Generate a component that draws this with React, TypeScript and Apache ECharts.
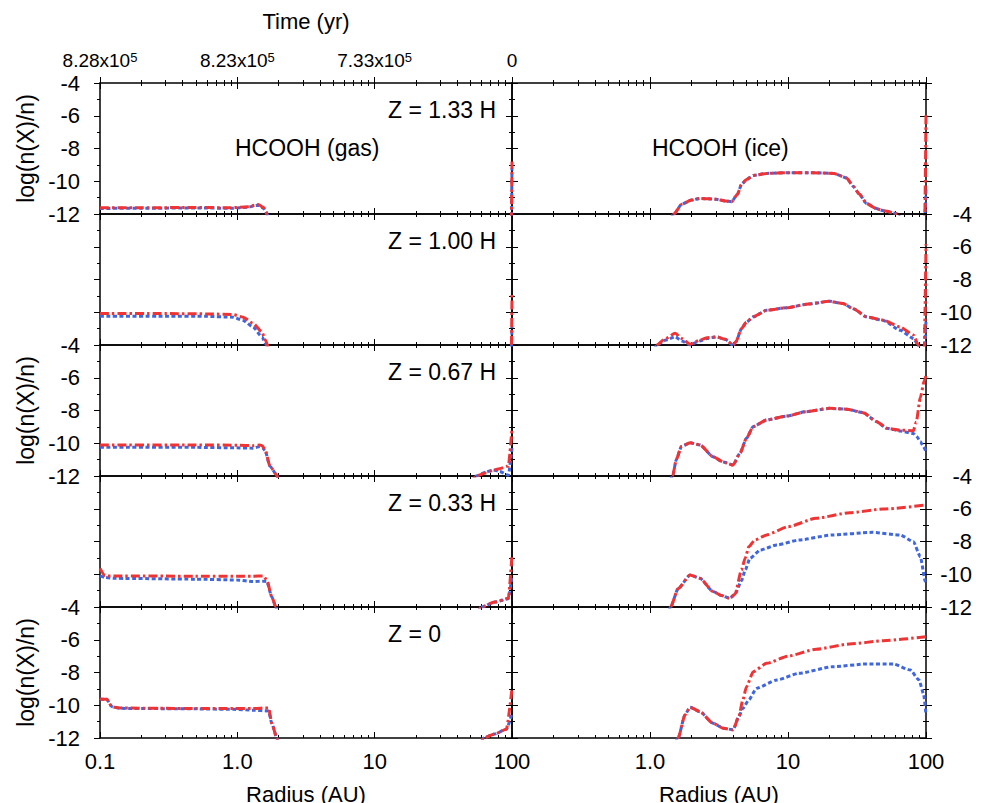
import React, { useEffect, useRef } from 'react';
import * as echarts from 'echarts';

// ---------- tick / label data ----------
const xMajorRadius = [0.1, 1, 10, 100];
const xTickLabels = ['0.1', '1.0', '10', '100'];
const timeTickLabels = ['8.28x10^5', '8.23x10^5', '7.33x10^5', '0'];
const heightLabels = ['Z = 1.33 H', 'Z = 1.00 H', 'Z = 0.67 H', 'Z = 0.33 H', 'Z = 0'];
const speciesLabels = ['HCOOH (gas)', 'HCOOH (ice)'];

// ---------- Z = 1.33 H ----------
const gas133R = [0.1, 0.2, 0.5, 0.9, 1.2, 1.42, 1.55, 1.66, 1.75, 97, 99, 100];
const gas133Red = [-11.62, -11.62, -11.6, -11.62, -11.55, -11.42, -11.6, -12.0, -13, -13, -12.2, -8.8];
const gas133Blue = [-11.66, -11.65, -11.63, -11.65, -11.58, -11.46, -11.65, -12.05, -13, -13, -12.2, -9.2];
const ice133R = [1.3, 1.49, 1.7, 2.0, 2.3, 3.0, 3.5, 3.9, 4.3, 4.6, 5.0, 5.6, 7.0, 10, 15, 21.5, 26.6, 29.6, 33, 37, 43, 49, 62, 70, 95, 98, 100];
const ice133Red = [-13, -12, -11.4, -11.15, -11.05, -11.1, -11.2, -11.25, -10.8, -10.2, -9.9, -9.65, -9.52, -9.48, -9.48, -9.52, -9.8, -10.3, -10.8, -11.35, -11.65, -11.8, -11.97, -13, -13, -12.2, -5.8];
const ice133Blue = [-13, -12, -11.4, -11.15, -11.05, -11.1, -11.2, -11.25, -10.8, -10.2, -9.9, -9.65, -9.52, -9.48, -9.48, -9.52, -9.8, -10.3, -10.8, -11.35, -11.65, -11.8, -11.97, -13, -13, -12.2, -10.5];

// ---------- Z = 1.00 H ----------
const gas100R = [0.1, 0.3, 0.6, 0.93, 1.1, 1.3, 1.51, 1.6, 1.66, 1.75, 97, 99, 100];
const gas100Red = [-10.08, -10.08, -10.1, -10.14, -10.3, -10.67, -11.2, -11.7, -12, -13, -13, -12.2, -8.85];
const gas100Blue = [-10.24, -10.24, -10.25, -10.3, -10.5, -10.9, -11.5, -11.9, -12.1, -13, -13, -12.2, -10.9];
const ice100R = [1.0, 1.12, 1.3, 1.52, 1.7, 1.95, 2.3, 2.6, 3.04, 3.5, 4.0, 4.2, 4.6, 5.0, 5.6, 7.0, 9.8, 14, 20, 25, 30, 37, 49, 65, 81, 88, 92, 97, 100];
const ice100Red = [-13, -12, -11.6, -11.29, -11.6, -11.95, -11.7, -11.55, -11.5, -11.65, -12.0, -11.8, -11.0, -10.6, -10.28, -9.88, -9.72, -9.5, -9.33, -9.47, -9.8, -10.28, -10.48, -10.9, -11.39, -12, -13, -12.5, -5.84];
const ice100Blue = [-13, -12, -11.7, -11.5, -11.75, -12.0, -11.75, -11.6, -11.5, -11.65, -12.0, -11.8, -11.0, -10.6, -10.28, -9.88, -9.72, -9.5, -9.33, -9.47, -9.8, -10.28, -10.5, -11.1, -11.6, -12, -13, -12.5, -10.5];

// ---------- Z = 0.67 H ----------
const gas067R = [0.1, 0.5, 1.0, 1.3, 1.46, 1.52, 1.59, 1.73, 1.94, 2.05, 45, 55, 65, 73, 81, 94, 100];
const gas067Red = [-10.1, -10.1, -10.12, -10.15, -10.1, -10.15, -10.4, -11.4, -11.95, -13, -13, -12, -11.8, -11.65, -11.55, -11.39, -9.1];
const gas067Blue = [-10.25, -10.25, -10.28, -10.3, -10.2, -10.25, -10.45, -11.4, -11.95, -13, -13, -12, -11.75, -11.63, -11.72, -11.95, -10.3];
const ice067RedR = [1.3, 1.46, 1.55, 1.69, 1.95, 2.3, 2.86, 3.4, 4.0, 4.49, 5.0, 5.6, 7.0, 9.8, 13.5, 20, 26.6, 35, 44, 52, 65, 81, 85, 91, 97, 100];
const ice067Red = [-13, -12, -11.0, -10.2, -9.97, -10.1, -10.82, -11.15, -11.33, -10.6, -9.7, -8.98, -8.58, -8.34, -8.07, -7.87, -7.92, -8.13, -8.68, -9.09, -9.2, -9.23, -8.7, -7.2, -6.2, -5.85];
const ice067BlueR = [1.3, 1.46, 1.55, 1.69, 1.95, 2.3, 2.86, 3.4, 4.0, 4.49, 5.0, 5.6, 7.0, 9.8, 13.5, 20, 26.6, 35, 44, 52, 65, 81, 86, 91, 95, 100];
const ice067Blue = [-13, -12, -11.0, -10.2, -9.97, -10.1, -10.82, -11.15, -11.33, -10.6, -9.7, -8.98, -8.58, -8.34, -8.07, -7.87, -7.92, -8.13, -8.68, -9.09, -9.25, -9.4, -9.6, -9.9, -10.15, -10.5];

// ---------- Z = 0.33 H ----------
const gas033R = [0.1, 0.109, 0.13, 0.5, 1.0, 1.3, 1.54, 1.64, 1.78, 1.91, 2.0, 50, 60, 75, 94, 100];
const gas033Red = [-9.64, -10.1, -10.1, -10.12, -10.12, -10.12, -10.1, -10.35, -11.37, -12, -13, -13, -12, -11.7, -11.47, -8.82];
const gas033Blue = [-10.1, -10.2, -10.25, -10.3, -10.35, -10.45, -10.42, -10.45, -11.37, -12, -13, -13, -12, -11.7, -11.5, -10.1];
const ice033RedR = [1.3, 1.41, 1.6, 1.95, 2.3, 2.86, 3.3, 3.79, 4.14, 4.6, 4.9, 5.2, 5.75, 7.0, 10, 16, 28, 49, 100];
const ice033Red = [-13, -12, -10.87, -10.05, -10.25, -11.05, -11.3, -11.47, -11.2, -9.74, -9.0, -8.32, -7.91, -7.6, -7.1, -6.58, -6.24, -6.02, -5.77];
const ice033BlueR = [1.3, 1.41, 1.6, 1.95, 2.3, 2.86, 3.3, 3.79, 4.14, 4.6, 4.9, 5.3, 6.3, 8.3, 12, 21, 41, 65, 81, 91, 99, 100];
const ice033Blue = [-13, -12, -10.87, -10.05, -10.25, -11.05, -11.3, -11.47, -11.2, -10.4, -9.74, -9.03, -8.52, -8.21, -7.91, -7.6, -7.44, -7.6, -8.01, -8.93, -10.45, -10.6];

// ---------- Z = 0 ----------
const gas000R = [0.1, 0.103, 0.112, 0.122, 0.14, 0.5, 0.93, 1.3, 1.69, 1.78, 1.94, 2.05, 55, 62, 75, 91, 100];
const gas000Red = [-9.6, -9.64, -9.64, -10.09, -10.17, -10.2, -10.2, -10.2, -10.16, -11.1, -12, -13, -13, -12, -11.75, -11.47, -8.97];
const gas000Blue = [-9.6, -9.64, -9.64, -10.09, -10.19, -10.22, -10.25, -10.3, -10.35, -11.1, -12, -13, -13, -12, -11.75, -11.47, -10.5];
const ice000RedR = [1.4, 1.6, 1.79, 1.95, 2.3, 2.86, 3.4, 4.0, 4.4, 4.7, 5.0, 5.6, 7.0, 10, 16, 28, 49, 100];
const ice000Red = [-13, -12, -10.6, -10.12, -10.39, -11.1, -11.4, -11.5, -10.7, -9.7, -8.87, -7.95, -7.44, -7.0, -6.58, -6.26, -6.06, -5.81];
const ice000BlueR = [1.4, 1.6, 1.79, 1.95, 2.3, 2.86, 3.4, 4.0, 4.4, 4.7, 5.2, 5.9, 8.3, 12, 21, 37, 58, 77, 89, 96, 100];
const ice000Blue = [-13, -12, -10.6, -10.12, -10.39, -11.1, -11.4, -11.5, -10.7, -10.2, -9.68, -8.97, -8.46, -8.05, -7.65, -7.48, -7.48, -7.85, -8.46, -9.3, -10.6];

type Panel = { blueR: number[]; blue: number[]; redR: number[]; red: number[] };
const panels: Panel[][] = [
  [
    { blueR: gas133R, blue: gas133Blue, redR: gas133R, red: gas133Red },
    { blueR: ice133R, blue: ice133Blue, redR: ice133R, red: ice133Red },
  ],
  [
    { blueR: gas100R, blue: gas100Blue, redR: gas100R, red: gas100Red },
    { blueR: ice100R, blue: ice100Blue, redR: ice100R, red: ice100Red },
  ],
  [
    { blueR: gas067R, blue: gas067Blue, redR: gas067R, red: gas067Red },
    { blueR: ice067BlueR, blue: ice067Blue, redR: ice067RedR, red: ice067Red },
  ],
  [
    { blueR: gas033R, blue: gas033Blue, redR: gas033R, red: gas033Red },
    { blueR: ice033BlueR, blue: ice033Blue, redR: ice033RedR, red: ice033Red },
  ],
  [
    { blueR: gas000R, blue: gas000Blue, redR: gas000R, red: gas000Red },
    { blueR: ice000BlueR, blue: ice000Blue, redR: ice000RedR, red: ice000Red },
  ],
];

const FONT = "'Liberation Sans', Arial, Helvetica, sans-serif";
const RED = '#ee3434';
const BLUE = '#3f66e0';

function buildOption() {
  const majorLog = xMajorRadius.map((r) => Math.log10(r));
  const minorLog: number[] = [];
  for (let d = -1; d <= 1; d++) for (let k = 2; k <= 9; k++) minorLog.push(d + Math.log10(k));
  const labelFor = (v: number) => {
    const i = majorLog.findIndex((m) => Math.abs(m - v) < 1e-6);
    return i >= 0 ? xTickLabels[i] : '';
  };
  const timeFor = (v: number) => {
    const i = majorLog.findIndex((m) => Math.abs(m - v) < 1e-6);
    if (i < 0) return '';
    const parts = timeTickLabels[i].split('^');
    return parts.length > 1 ? `{a|${parts[0]}}{b|${parts[1]}}` : `{a|${parts[0]}}`;
  };

  const grids: any[] = [];
  const xAxes: any[] = [];
  const yAxes: any[] = [];
  const series: any[] = [];
  const graphics: any[] = [];
  const black = { color: '#000', width: 1.5 };
  const tickLine = { color: '#000', width: 1 };
  const top0 = 83;
  const rowH = 131;

  for (let row = 0; row < 5; row++) {
    for (let col = 0; col < 2; col++) {
      const g = grids.length;
      grids.push({
        left: col === 0 ? 100 : 512,
        width: col === 0 ? 412 : 414,
        top: top0 + row * rowH,
        height: rowH,
        outerBoundsMode: 'none',
        containLabel: false,
      });
      const baseX = {
        gridIndex: g,
        type: 'value',
        min: -1,
        max: 2,
        splitLine: { show: false },
        minorSplitLine: { show: false },
      };
      const mainX = xAxes.length;
      xAxes.push({
        ...baseX,
        position: 'bottom',
        axisLine: { show: true, onZero: false, lineStyle: black },
        axisTick: { show: true, inside: true, length: 6, customValues: majorLog, lineStyle: tickLine },
        axisLabel: {
          show: row === 4,
          customValues: col === 0 ? majorLog : majorLog.slice(1),
          formatter: labelFor,
          margin: 12,
          color: '#000',
          fontSize: 22,
          fontFamily: FONT,
        },
        name: row === 4 ? 'Radius (AU)' : '',
        nameLocation: 'middle',
        nameGap: 45,
        nameMoveOverlap: false,
        nameTextStyle: { color: '#000', fontSize: 22, fontFamily: FONT },
      });
      xAxes.push({
        ...baseX,
        position: 'bottom',
        axisLine: { show: false, onZero: false },
        axisTick: { show: true, inside: true, length: 3, customValues: minorLog, lineStyle: tickLine },
        axisLabel: { show: false },
      });
      xAxes.push({
        ...baseX,
        position: 'top',
        axisLine: { show: true, onZero: false, lineStyle: black },
        axisTick: { show: true, inside: true, length: 6, customValues: majorLog, lineStyle: tickLine },
        axisLabel: { show: false },
      });
      xAxes.push({
        ...baseX,
        position: 'top',
        axisLine: { show: false, onZero: false },
        axisTick: { show: true, inside: true, length: 3, customValues: minorLog, lineStyle: tickLine },
        axisLabel: { show: false },
      });
      if (row === 0) {
        xAxes.push({
          ...baseX,
          position: 'top',
          axisLine: { show: false, onZero: false },
          axisTick: { show: true, inside: false, length: 6, customValues: majorLog, lineStyle: tickLine },
          axisLabel: {
            show: col === 0,
            customValues: majorLog,
            formatter: timeFor,
            margin: 13,
            color: '#000',
            rich: {
              a: { fontSize: 19, fontFamily: FONT, color: '#000' },
              b: { fontSize: 13, fontFamily: FONT, color: '#000', verticalAlign: 'top', padding: [0, 0, 4, 0] },
            },
          },
          name: col === 0 ? 'Time (yr)' : '',
          nameLocation: 'middle',
          nameGap: 51,
          nameMoveOverlap: false,
          nameTextStyle: { color: '#000', fontSize: 22, fontFamily: FONT },
        });
        xAxes.push({
          ...baseX,
          position: 'top',
          axisLine: { show: false, onZero: false },
          axisTick: { show: true, inside: false, length: 3, customValues: minorLog, lineStyle: tickLine },
          axisLabel: { show: false },
        });
      }

      const baseY = {
        gridIndex: g,
        type: 'value',
        min: -12,
        max: -4,
        interval: 2,
        splitLine: { show: false },
        minorSplitLine: { show: false },
        minorTick: { show: true, splitNumber: 2, length: 3, lineStyle: tickLine },
      };
      const mainY = yAxes.length;
      if (col === 0) {
        yAxes.push({
          ...baseY,
          position: 'left',
          axisLine: { show: true, onZero: false, lineStyle: black },
          axisTick: { show: true, inside: false, length: 6, lineStyle: tickLine },
          axisLabel: {
            show: row % 2 === 0,
            margin: 20,
            color: '#000',
            fontSize: 22,
            fontFamily: FONT,
            formatter: (v: number) => String(v),
          },
          name: row % 2 === 0 ? 'log(n(X)/n)' : '',
          nameLocation: 'middle',
          nameGap: 63,
          nameMoveOverlap: false,
          nameTextStyle: { color: '#000', fontSize: 23, fontFamily: FONT },
        });
        yAxes.push({
          ...baseY,
          position: 'right',
          axisLine: { show: true, onZero: false, lineStyle: black },
          axisTick: { show: true, inside: true, length: 6, lineStyle: tickLine },
          axisLabel: { show: false },
        });
      } else {
        yAxes.push({
          ...baseY,
          position: 'left',
          axisLine: { show: true, onZero: false, lineStyle: black },
          axisTick: { show: true, inside: true, length: 6, lineStyle: tickLine },
          axisLabel: { show: false },
        });
        yAxes.push({
          ...baseY,
          position: 'right',
          axisLine: { show: true, onZero: false, lineStyle: black },
          axisTick: { show: true, inside: true, length: 6, lineStyle: tickLine },
          axisLabel: { show: false },
        });
        yAxes.push({
          ...baseY,
          position: 'right',
          axisLine: { show: false, onZero: false },
          axisTick: { show: true, inside: false, length: 6, lineStyle: tickLine },
          axisLabel: {
            show: row % 2 === 1,
            margin: 46,
            align: 'right',
            color: '#000',
            fontSize: 22,
            fontFamily: FONT,
            formatter: (v: number) => String(v),
          },
        });
      }

      const p = panels[row][col];
      const common = {
        type: 'line',
        xAxisIndex: mainX,
        yAxisIndex: mainY,
        symbol: 'none',
        showSymbol: false,
        clip: true,
        smooth: 0.2,
        smoothMonotone: 'x',
        silent: true,
      };
      series.push({
        ...common,
        name: 'blue',
        data: p.blueR.map((r, i) => [Math.log10(r), p.blue[i]]),
        lineStyle: { color: BLUE, width: 3, type: [4, 2.5] },
        z: 2,
      });
      series.push({
        ...common,
        name: 'red',
        data: p.redR.map((r, i) => [Math.log10(r), p.red[i]]),
        lineStyle: { color: RED, width: 3, type: [9, 3, 2.5, 3] },
        z: 3,
      });
    }
    graphics.push({
      type: 'text',
      x: 388,
      y: top0 + row * rowH + 27,
      style: { text: heightLabels[row], fontSize: 23, fontFamily: FONT, fill: '#000', align: 'left', verticalAlign: 'middle' },
    });
  }
  graphics.push({
    type: 'text',
    x: 235,
    y: top0 + 64.5,
    style: { text: speciesLabels[0], fontSize: 23, fontFamily: FONT, fill: '#000', align: 'left', verticalAlign: 'middle' },
  });
  graphics.push({
    type: 'text',
    x: 652,
    y: top0 + 64.5,
    style: { text: speciesLabels[1], fontSize: 23, fontFamily: FONT, fill: '#000', align: 'left', verticalAlign: 'middle' },
  });

  return {
    animation: false,
    backgroundColor: '#fff',
    textStyle: { fontFamily: FONT, color: '#000' },
    grid: grids,
    xAxis: xAxes,
    yAxis: yAxes,
    series,
    graphic: graphics,
  };
}

export default function App() {
  const ref = useRef<HTMLDivElement>(null);
  useEffect(() => {
    if (!ref.current) return;
    const chart = echarts.init(ref.current, undefined, { renderer: 'svg' });
    chart.setOption(buildOption() as any);
    return () => chart.dispose();
  }, []);
  return (
    <div
      ref={ref}
      style={{ position: 'fixed', left: 0, top: 0, width: 981, height: 803, background: '#fff' }}
    />
  );
}
